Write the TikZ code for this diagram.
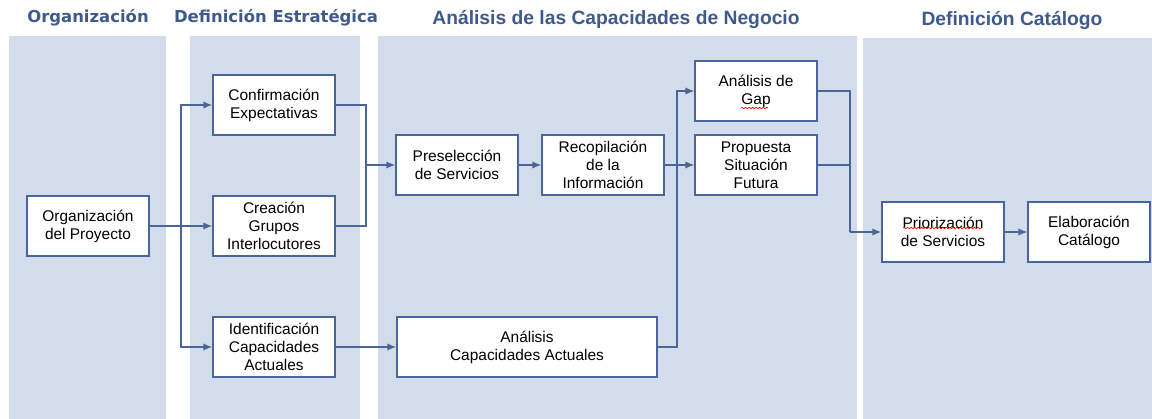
\documentclass[tikz,border=0pt]{standalone}
\usepackage{fontspec}
\setmainfont{Liberation Sans}
\newfontfamily\verdfont{DejaVu Sans}
\usetikzlibrary{arrows.meta,decorations.pathmorphing}
\definecolor{panel}{HTML}{D3DCEB}
\definecolor{head}{HTML}{3E5A8C}
\definecolor{wire}{HTML}{4A6699}

\begin{document}
\begin{tikzpicture}[x=.025cm,y=-.025cm,
  box/.style={draw=wire,line width=1.05pt,fill=white,minimum width=3.05cm,
    minimum height=1.5cm,align=center,inner sep=1pt,
    font=\fontsize{11}{12.8}\selectfont},
  joint/.style={draw=wire,line width=.85pt},
  link/.style={joint,-{Latex[length=2.2mm,width=1.8mm]}},
  heada/.style={text=head,font=\verdfont\bfseries\fontsize{11.7}{14}\selectfont},
  headb/.style={text=head,font=\bfseries\fontsize{13.7}{16}\selectfont},
  squig/.style={red,line width=.5pt,decorate,
    decoration={snake,amplitude=.5pt,segment length=2.5pt}}]
  \useasboundingbox (0,0) rectangle (1152,419);
  \fill[panel] (9,36) rectangle (166,419);
  \fill[panel] (190,36) rectangle (360,419);
  \fill[panel] (378,36) rectangle (857,419);
  \fill[panel] (863,38) rectangle (1152,419);
  \node[heada] (hOrg) at (88,18) {Organización};
  \node[heada] (hDef) at (276,18) {Definición Estratégica};
  \node[headb] (hAna) at (616,19) {Análisis de las Capacidades de Negocio};
  \node[headb] (hCat) at (1012,20) {Definición Catálogo};

  \node[box] (org) at (88,226) {Organización\\del Proyecto};
  \node[box] (conf) at (274,105) {Confirmación\\Expectativas};
  \node[box] (crea) at (274,226) {Creación\\Grupos\\Interlocutores};
  \node[box] (iden) at (274,347) {Identificación\\Capacidades\\Actuales};
  \node[box] (pres) at (457,165) {Preselección\\de Servicios};
  \node[box] (reco) at (603,165) {Recopilación\\de la\\Información};
  \node[box] (gap) at (756,91) {Análisis de\\Gap};
  \node[box] (prop) at (756,165) {Propuesta\\Situación\\Futura};
  \node[box,minimum width=6.5cm] (acap) at (527,347) {Análisis\\Capacidades Actuales};
  \node[box] (prio) at (943,232) {Priorización\\de Servicios};
  \node[box] (elab) at (1089,232) {Elaboración\\Catálogo};

  \coordinate (s1) at (181,226);
  \coordinate (s2) at (366,165);
  \coordinate (s3) at (677,165);
  \coordinate (s4) at (850,232);
  \draw[link] (org) -- (crea);
  \draw[link] (s1) |- (conf);
  \draw[link] (s1) |- (iden);
  \draw[joint] (conf) -| (s2);
  \draw[joint] (crea) -| (s2);
  \draw[link] (s2) -- (pres);
  \draw[link] (pres) -- (reco);
  \draw[link] (iden) -- (acap);
  \draw[link] (reco) -- (prop);
  \draw[link] (s3) |- (gap);
  \draw[joint] (acap) -| (s3);
  \draw[joint] (gap) -| (s4);
  \draw[joint] (prop) -| (s4);
  \draw[link] (s4) -- (prio);
  \draw[link] (prio) -- (elab);

  \draw[squig] (741,108) -- (768,108);
  \draw[squig] (903,228) -- (982,228);
\end{tikzpicture}
\end{document}
